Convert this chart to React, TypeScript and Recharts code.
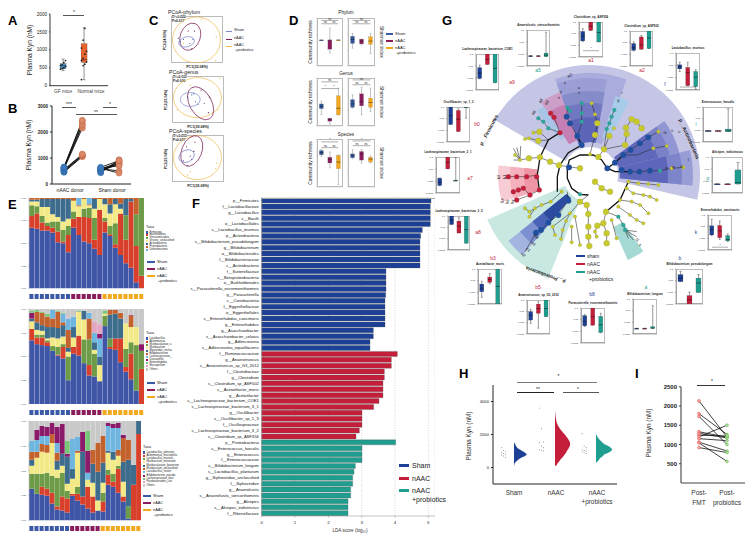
import React from 'react';
import {
  Bar, BarChart, CartesianGrid, Cell, ComposedChart, Area, Line, LineChart, Pie, PieChart,
  ReferenceLine, Scatter, ScatterChart, XAxis, YAxis,
} from 'recharts';

const FONT = '"Liberation Sans", Arial, sans-serif';
const BLUE = '#1c4096';
const RED = '#c41e3a';
const TEAL = '#1f9e8f';
const groupColors = [BLUE, RED, TEAL];
const dColors = ['#2f5597', '#8a1c5b', '#f2a91e'];

// panel F
const lefNames = [
  'p__Firmicutes', 'f__Lactobacillaceae', 'g__Lactobacillus', 'c__Bacilli', 'o__Lactobacillales', 's__Lactobacillus_murinus',
  'p__Actinobacteria', 's__Bifidobacterium_pseudolongum', 'g__Bifidobacterium', 'o__Bifidobacteriales', 'f__Bifidobacteriaceae',
  'c__Actinobacteria', 'f__Sutterellaceae', 'c__Betaproteobacteria', 'o__Burkholderiales', 's__Parasutterella_excrementihominis',
  'g__Parasutterella', 'c__Coriobacteriia', 'f__Eggerthellaceae', 'o__Eggerthellales', 's__Enterorhabdus_caecimuris',
  'g__Enterorhabdus', 'g__Asaccharobacter', 's__Asaccharobacter_celatus', 'g__Adlercreutzia', 's__Adlercreutzia_equolifaciens',
  'f__Ruminococcaceae', 'g__Anaerotruncus', 's__Anaerotruncus_sp_G3_2012', 'f__Clostridiaceae', 'g__Clostridium',
  's__Clostridium_sp_ASF502', 's__Acetatifactor_muris', 'g__Acetatifactor', 's__Lachnospiraceae_bacterium_COE1',
  's__Lachnospiraceae_bacterium_3_1', 'g__Oscillibacter', 's__Oscillibacter_sp_1_3', 'f__Oscillospiraceae',
  's__Lachnospiraceae_bacterium_3_2', 's__Clostridium_sp_ASF356',
  'p__Proteobacteria', 's__Enterococcus_faecalis', 'g__Enterococcus', 'f__Enterococcaceae', 's__Bifidobacterium_longum',
  's__Lactobacillus_plantarum', 'g__Siphoviridae_unclassified', 'f__Siphoviridae', 'g__Anaerofustis',
  's__Anaerofustis_stercorihominis', 'g__Alistipes', 's__Alistipes_indistinctus', 'f__Rikenellaceae',
];
const lefScores = [
  5.08, 5.06, 5.06, 5.06, 5.06, 4.82, 4.77, 4.75, 4.75, 4.75, 4.75, 4.75, 3.73, 3.73, 3.73, 3.73, 3.72, 3.7, 3.7, 3.7, 3.7, 3.7,
  3.35, 3.35, 3.25, 3.25,
  4.07, 3.89, 3.89, 3.68, 3.68, 3.64, 3.64, 3.64, 3.52, 3.36, 3.01, 3.01, 3.01, 2.93, 2.83,
  4.02, 3.01, 3.01, 3.01, 2.81, 2.77, 2.73, 2.73, 2.67, 2.67, 2.59, 2.59, 2.59,
];
const lefGroup = (i: number) => (i < 26 ? 0 : i < 41 ? 1 : 2);

// panel E
const e1Taxa = ['Firmicutes', 'Bacteroidetes', 'Verrucomicrobia', 'Viruses_unclassified', 'Actinobacteria', 'Proteobacteria', 'Deferribacteres'];
const e2Taxa = ['Lactobacillus', 'Akkermansia', 'Muribaculaceae_u', 'Muribaculum', 'Myoviridae_unclas', 'Bifidobacterium', 'Lachnospiraceae_', 'Duncaniella', 'Enterorhabdus', 'Mucispirillum', 'Others'];
const e3Taxa = ['Lactobacillus_johnsonii', 'Akkermansia_muciniphila', 'Lactobacillus_murinus', 'Muribaculum_intestinale', 'Muribaculaceae_bacterium', 'Muribaculum_unclassified', 'Lactobacillus_reuteri', 'Bifidobacterium_pseudo', 'Lachnospiraceae_bact', 'Parabacteroides_cae', 'Others'];
const e1Bars = [
  [67, 13, 12, 4, 2, 2, 0], [66, 17, 8, 5, 2, 2, 0], [64, 9, 7, 10, 9, 1, 0], [64, 5, 4, 17, 9, 1, 0], [62, 5, 7, 8, 17, 1, 0],
  [51, 12, 11, 5, 20, 1, 0], [50, 2, 13, 9, 25, 1, 0], [40, 19, 10, 8, 22, 1, 0], [67, 10, 8, 12, 0, 3, 0], [59, 20, 0, 12, 0, 1, 8],
  [52, 27, 9, 11, 0, 1, 0], [50, 28, 11, 3, 0, 1, 7], [44, 10, 24, 10, 11, 1, 0], [37, 50, 0, 12, 0, 1, 0], [62, 12, 4, 15, 6, 1, 0],
  [58, 2, 9, 14, 10, 7, 0], [45, 4, 23, 21, 6, 1, 0], [37, 46, 0, 5, 6, 6, 0], [28, 26, 27, 0, 18, 1, 0], [23, 73, 0, 0, 3, 1, 0],
  [7, 40, 35, 0, 0, 18, 0], [0, 14, 86, 0, 0, 0, 0],
];
const e2Bars = [
  [67, 12, 0, 8, 3, 0, 0, 6, 2, 0], [63, 7, 3, 5, 8, 11, 0, 0, 2, 0], [62, 8, 3, 4, 6, 13, 0, 0, 1, 0], [61, 4, 2, 2, 12, 11, 0, 0, 3, 0],
  [56, 0, 5, 9, 11, 9, 9, 0, 0, 0], [51, 1, 8, 9, 11, 17, 0, 0, 1, 0], [48, 12, 3, 8, 12, 3, 9, 0, 1, 0], [25, 0, 25, 5, 4, 19, 12, 0, 0, 1],
  [53, 7, 0, 10, 11, 0, 11, 0, 0, 0], [51, 21, 0, 25, 0, 0, 0, 0, 1, 0], [43, 0, 25, 21, 9, 0, 0, 0, 0, 0], [30, 11, 27, 0, 0, 22, 6, 0, 0, 0],
  [29, 0, 24, 4, 8, 0, 10, 0, 0, 12], [24, 0, 0, 17, 9, 0, 19, 5, 0, 10], [82, 0, 11, 2, 0, 0, 0, 0, 3, 0], [58, 2, 9, 0, 25, 5, 0, 0, 0, 0],
  [57, 12, 0, 0, 26, 4, 0, 0, 0, 0], [44, 25, 0, 0, 21, 6, 0, 0, 0, 0], [34, 5, 19, 27, 0, 0, 0, 0, 0, 0], [26, 27, 12, 16, 0, 12, 0, 1, 0, 0],
  [14, 0, 48, 19, 0, 0, 0, 0, 0, 0], [0, 37, 19, 0, 0, 0, 0, 7, 0, 0],
];
const e3Bars = [
  [32, 0, 15, 8, 6, 8, 11, 0, 0], [27, 0, 20, 16, 0, 6, 12, 10, 0], [26, 8, 13, 22, 0, 8, 8, 10, 0], [25, 7, 16, 20, 0, 8, 9, 9, 0],
  [17, 11, 17, 33, 0, 9, 0, 11, 0], [11, 3, 29, 8, 9, 8, 10, 16, 0], [10, 14, 24, 7, 12, 0, 0, 30, 0], [8, 14, 8, 7, 27, 0, 0, 3, 13],
  [25, 2, 0, 15, 10, 0, 30, 0, 0], [20, 7, 7, 34, 0, 2, 14, 0, 0], [16, 8, 0, 0, 45, 0, 0, 20, 0], [12, 22, 0, 7, 0, 0, 7, 22, 20],
  [8, 16, 0, 14, 19, 14, 0, 0, 0], [10, 0, 0, 10, 29, 29, 0, 0, 0], [9, 10, 9, 10, 20, 27, 0, 0, 0], [36, 10, 5, 17, 2, 0, 25, 3, 0],
  [34, 5, 8, 14, 8, 0, 24, 4, 0], [28, 24, 3, 10, 0, 6, 22, 5, 0], [19, 5, 0, 15, 20, 24, 0, 3, 0], [2, 0, 12, 0, 47, 20, 0, 0, 0],
  [0, 36, 0, 0, 20, 0, 0, 0, 0], [0, 87, 0, 0, 13, 0, 0, 0, 0],
];
const taxaColors = ['#3f56a6', '#d9402b', '#6d9b47', '#f3e986', '#3d6c8d', '#c4622d', '#6eb6e0', '#8b1a6b', '#79c67a', '#e3a5c0'];
const e1Groups = [8, 6, 8];
const e3Groups = [8, 6, 8];

// panel A, D boxes: [lo, q1, median, q3, hi]
const aCategories = ['GF mice', 'Normal mice'];
const aStats = [[420, 474, 558, 614, 744], [167, 651, 725, 1172, 1618]];
const aPointsGF = [460, 480, 500, 540, 560, 590, 640, 700];
const aPointsNormal = [170, 560, 600, 660, 700, 760, 880, 960, 1050, 1270, 1600];
const dCategories = ['Sham', 'nAAC', 'nAAC+probiotics'];
const dTitles = ['Phylum', 'Genus', 'Species'];
const dStats = [
  [[54, 54, 54, 54, 54], [27, 35, 54, 54, 79], [54, 54, 54, 54, 54]],
  [[37, 47, 55, 62, 68], [44, 46, 52, 56, 56], [26, 45, 52, 61, 68]],
  [[24, 36, 41, 46, 52], [4, 10, 14, 16, 16], [23, 23, 37, 63, 79]],
  [[37, 39, 46, 55, 65], [23, 42, 51, 67, 81], [30, 39, 49, 58, 79]],
  [[64, 67, 72, 76, 78], [40, 50, 58, 62, 73], [5, 38, 52, 66, 67]],
  [[59, 61, 65, 69, 78], [50, 56, 69, 74, 78], [50, 52, 58, 62, 65]],
];

// panel B and I paired values
const bLeftA = [450, 480, 500, 530, 550, 580, 600, 620, 640, 650];
const bRightA = [1050, 1080, 1100, 1120, 1150, 2150, 2250, 2300, 2400, 2450];
const bLeftB = [430, 470, 500, 520, 540, 560, 590, 600, 620, 640];
const bRightB = [930, 880, 800, 750, 800, 850, 500, 420, 700, 900];
const iCategories = ['Post-FMT', 'Post-probiotics'];
const iBefore = [2130, 1800, 1730, 1330, 1290, 1240, 1200, 1150, 1060, 1040, 920];
const iAfter = [1190, 1260, 1000, 1190, 1170, 1220, 1500, 1100, 830, 560, 790];

// panel C, scores in a 0-100 plot range
const cPoints = [
  { sham: [[18, 45], [24, 50], [36, 42], [14, 53], [42, 50]], naac: [[33, 68], [40, 30], [45, 68]], prob: [[59, 93], [87, 55], [86, 5], [24, 42]] },
  { sham: [[30, 55], [38, 60], [45, 45], [50, 40], [42, 62]], naac: [[62, 42], [70, 22], [72, 55], [56, 70]], prob: [[92, 95], [35, 80], [10, 28], [88, 28]] },
  { sham: [[22, 45], [35, 55], [30, 35], [38, 48]], naac: [[28, 75], [44, 85], [42, 65]], prob: [[86, 40], [84, 28], [30, 15], [35, 22]] },
];
const cEllipses = [
  [[49, 49, 24, 23, 0], [37, 56, 10, 14, 20], [30, 45, 8, 5, -15]],
  [[49, 54, 24, 20, 0], [55, 42, 11, 18, -30], [35, 50, 10, 7, 0]],
  [[49, 52, 24, 22, 0], [38, 66, 10, 16, 22], [28, 55, 8, 6, -25]],
];
const cTitles = ['PCoA-phylum', 'PCoA-genus', 'PCoA-species'];
const cStats = [['R²=0.224', 'P=0.017'], ['R²=0.130', 'P=0.030'], ['R²=0.218', 'P=0.027']];
const cXLabels = ['PC1(32.08%)', 'PC1(39.08%)', 'PC1(35.08%)'];
const cYLabels = ['PC2(24.95%)', 'PC2(23.04%)', 'PC2(23.04%)'];

// panel G small boxes
const gTitles = [
  'Lachnospiraceae_bacterium_COE1', 'Anaerofustis_stercorihominis', 'Clostridium_sp_ASF356', 'Clostridium_sp_ASF502', 'Lactobacillus_murinus',
  'Enterococcus_faecalis', 'Alistipes_indistinctus', 'Enterorhabdus_caecimuris', 'Bifidobacterium_pseudolongum', 'Bifidobacterium_longum',
  'Parasutterella_excrementihominis', 'Anaerotruncus_sp_G3_2012', 'Acetatifactor_muris', 'Lachnospiraceae_bacterium_3_2',
  'Lachnospiraceae_bacterium_3_1', 'Oscillibacter_sp_1_3',
];
const gStats = [
  [[31, 32, 47, 62, 69], [71, 71, 85, 100, 100], [20, 20, 60, 100, 100]],
  [[28, 28, 28, 28, 28], [28, 28, 28, 28, 28], [26, 26, 30, 36, 94]],
  [[44, 46, 60, 73, 81], [76, 76, 88, 100, 100], [43, 43, 70, 100, 100]],
  [[43, 45, 52, 64, 69], [48, 48, 60, 83, 87], [50, 50, 80, 100, 100]],
  [[50, 57, 63, 68, 75], [11, 12, 47, 61, 75], [2, 9, 35, 50, 55]],
  [[32, 32, 32, 32, 32], [32, 32, 32, 32, 32], [30, 30, 32, 37, 95]],
  [[25, 25, 25, 25, 25], [25, 25, 25, 25, 25], [25, 25, 29, 64, 85]],
  [[41, 43, 58, 69, 88], [30, 35, 55, 70, 83], [24, 26, 30, 41, 46]],
  [[64, 64, 74, 84, 93], [0, 0, 12, 24, 34], [33, 33, 60, 74, 84]],
  [[16, 16, 16, 16, 16], [16, 16, 16, 16, 16], [16, 16, 17, 21, 81]],
  [[47, 49, 62, 78, 81], [51, 51, 75, 100, 100], [29, 30, 52, 76, 85]],
  [[31, 41, 55, 66, 73], [17, 61, 75, 88, 95], [51, 51, 75, 100, 100]],
  [[19, 35, 45, 57, 65], [58, 62, 70, 77, 87], [0, 0, 50, 100, 100]],
  [[75, 75, 88, 100, 100], [50, 50, 70, 85, 95], [20, 20, 60, 100, 100]],
  [[20, 21, 30, 41, 42], [67, 67, 85, 100, 100], [35, 35, 35, 35, 100]],
  [[50, 50, 75, 100, 100], [30, 30, 65, 90, 95], [68, 100, 100, 100, 100]],
];
const gTickLabels = ['0.0001', '0.001', '0.01', '0.1'];
const gBoxFrames = [
  [476, 54, 23, 36], [527, 30, 23, 36], [579, 22, 24, 35], [630, 31, 23, 35], [676, 53, 24, 37], [703, 107, 30, 35], [712, 157, 31, 36], [708, 215, 24, 35],
  [676, 269, 27, 35], [633, 299, 24, 35], [581, 308, 24, 35], [527, 300, 23, 34], [478, 269, 24, 35], [448, 216, 22, 34], [436, 157, 24, 36], [447, 107, 23, 35],
];
const gBoxTags: [string, string, number, number][] = [
  ['a9', RED, 512, 82], ['a5', TEAL, 538, 70], ['a1', RED, 591, 60], ['a2', RED, 642, 70], ['f', BLUE, 665, 84], ['i', TEAL, 696, 124],
  ['p', TEAL, 708, 178], ['k', BLUE, 696, 232], ['b', BLUE, 680, 258], ['a', TEAL, 646, 287], ['b8', BLUE, 592, 294], ['b5', RED, 538, 287],
  ['b3', RED, 493, 258], ['a8', RED, 478, 232], ['a7', RED, 470, 178], ['b0', RED, 477, 124],
];

// cladogram wedges in degrees counterclockwise from east
const wedgeStarts = [-13, 203.5, 174, 174, 174, 294, 69, 80, 80, 80, 80, 62, 110, 110, 124, 14, 14, 14, -6, -6, -6, 219, 219, 219, 219];
const wedgeSpans = [163, 44.5, 23, 23, 23, 11, 41, 30, 30, 30, 30, 10, 14, 14, 6, 22, 22, 22, 20, 20, 20, 11, 11, 11, 11];
const wedgeInner = [28, 27, 53, 53, 53, 57, 33, 33, 33, 33, 33, 40, 37, 37, 45, 30, 30, 30, 30, 30, 30, 30, 30, 30, 30];
const wedgeOuter = [110, 112, 92, 80, 66, 93, 102, 97, 84, 72, 58, 83, 88, 75, 83, 92, 82, 70, 103, 92, 78, 105, 90, 74, 60];
const wedgeFills = ['#c5c6e6', '#c9e8e2', '#f8ccd4', '#f4b1bd', '#ee95a6', '#a5d9d3', '#a9acdc', '#9a9ed5', '#868cca', '#7177c1', '#5d65b9', '#a8cbea', '#cd9fc8', '#c47fb5', '#a8c4e6', '#9297d3', '#7a81c8', '#5f68bb', '#999dd6', '#7d84ca', '#5d66ba', '#a4b4e0', '#7c8fd0', '#4a63b6', '#2c4a9e'];

// cladogram tree, read in a 0-675 layout range
const thickChains = [
  [[232, 395], [232, 350], [240, 315], [265, 278], [305, 255]],
  [[262, 322], [268, 300], [300, 285], [340, 285], [365, 300], [382, 325]],
  [[262, 322], [262, 355], [275, 385], [300, 403], [325, 405]],
  [[180, 292], [172, 345], [178, 390]],
  [[180, 292], [205, 240], [240, 218]],
  [[378, 455], [420, 420], [445, 365]],
  [[382, 325], [405, 308], [430, 285]],
  [[382, 325], [405, 335], [450, 335]],
  [[305, 255], [292, 228]],
];
const thinChains = [
  [[180, 292], [147, 295], [120, 300], [105, 285]],
  [[120, 300], [100, 265]], [[120, 300], [110, 262]], [[120, 300], [122, 258]], [[120, 300], [100, 300]],
  [[240, 218], [205, 205], [190, 185], [175, 175]],
  [[240, 218], [222, 172], [212, 160]],
  [[205, 240], [178, 215], [160, 218]],
  [[205, 240], [175, 242], [147, 235], [135, 237]],
  [[292, 228], [270, 190], [260, 170], [262, 143]],
  [[292, 228], [305, 190], [305, 130]],
  [[330, 283], [345, 225], [352, 190], [345, 163], [335, 130]],
  [[355, 291], [372, 268], [388, 228]],
  [[372, 268], [380, 207], [388, 190], [395, 170], [403, 150]],
  [[372, 268], [435, 255], [440, 222], [438, 203], [455, 178], [470, 185], [485, 205]],
  [[430, 285], [452, 270], [480, 250], [505, 232], [535, 215]],
  [[450, 335], [478, 335], [510, 332], [540, 332], [575, 325], [610, 322]],
  [[430, 285], [470, 285], [520, 265], [560, 258]],
  [[445, 365], [475, 370], [505, 372], [535, 375]],
  [[440, 385], [460, 400], [490, 405], [510, 410], [530, 420]],
  [[420, 420], [455, 425], [480, 435], [505, 460]],
  [[415, 440], [450, 465], [470, 480], [490, 490]],
  [[378, 455], [415, 470], [430, 495], [435, 510]],
  [[435, 510], [470, 530]], [[435, 510], [460, 540]], [[435, 510], [445, 535]], [[435, 510], [470, 515]],
  [[378, 455], [370, 490], [352, 497], [345, 515], [350, 530]],
  [[370, 490], [380, 520], [380, 550]],
  [[395, 480], [410, 535]],
  [[325, 405], [300, 425], [320, 435], [325, 462], [325, 500], [325, 530], [328, 558]],
  [[300, 425], [270, 460], [258, 483], [248, 510], [243, 537]],
  [[285, 470], [300, 555]],
  [[275, 500], [275, 547]],
  [[270, 460], [218, 500], [225, 525]],
  [[262, 395], [265, 422], [235, 465], [205, 488], [183, 510], [168, 518], [135, 575]],
  [[245, 395], [212, 425], [185, 435], [165, 445], [148, 455], [135, 445]],
  [[165, 445], [148, 470]],
  [[172, 345], [140, 350], [110, 350], [85, 350]],
  [[178, 390], [150, 405], [130, 385], [100, 395]],
  [[150, 405], [110, 420]],
  [[345, 365], [365, 385], [390, 395]],
  [[237, 316], [210, 305], [180, 292]],
  [[237, 316], [300, 325]],
];
const yellowBig = [
  [345, 365], [365, 385], [390, 395], [378, 455], [300, 325], [237, 316], [210, 305], [180, 292], [355, 291], [345, 225], [388, 228], [372, 268],
  [435, 255], [440, 222], [455, 178], [470, 185], [485, 205], [438, 203], [352, 190], [178, 215], [175, 242], [147, 295],
  [325, 462], [325, 500], [325, 530], [328, 558], [300, 425], [320, 435], [370, 490], [352, 497], [380, 520], [380, 550],
];
const yellowSmall = [
  [330, 283], [345, 163], [335, 130], [402, 205], [160, 218], [147, 235], [135, 237], [120, 300], [105, 285],
  [270, 460], [258, 483], [248, 510], [243, 537], [218, 500], [225, 525], [185, 435], [165, 445], [148, 455], [135, 445], [148, 470], [212, 425], [245, 395],
  [345, 515], [350, 530], [410, 535], [395, 480], [300, 555], [275, 547], [285, 470], [275, 500],
  [445, 365], [440, 385], [475, 370], [505, 372], [535, 375], [460, 400], [490, 405], [510, 410], [530, 420], [455, 425], [480, 435], [505, 460], [450, 465], [470, 480], [490, 490], [420, 420], [415, 440],
  [575, 325], [610, 322], [535, 215], [520, 265], [560, 258],
];
const blueNodes = [
  [267, 322], [305, 255], [292, 228], [270, 190], [260, 170], [382, 325], [405, 308], [425, 330], [450, 335], [478, 335], [510, 332], [430, 285], [452, 270], [480, 250], [505, 232],
  [265, 422], [235, 465], [205, 488], [183, 510], [168, 518],
];
const redNodes = [
  [240, 218], [222, 172], [212, 160], [170, 350], [140, 350], [110, 350], [85, 350], [178, 390], [150, 405], [130, 385], [115, 390], [100, 395], [110, 420],
];
const tealNodes = [
  [300, 403], [305, 160], [305, 130], [305, 185], [262, 143], [270, 152], [395, 170], [403, 150], [388, 190], [380, 207], [205, 205], [190, 185], [175, 175], [415, 470], [430, 495], [435, 510], [540, 332],
];
const cladeLetters: [string, number, number, number][] = [
  ['a0', 270, 47, -20], ['z', 255, 70, -15], ['y', 243, 95, -20], ['x', 238, 115, -20], ['u', 297, 85, 0], ['t', 297, 100, 0], ['r', 425, 100, 15], ['q', 415, 122, 15],
  ['a4', 183, 123, -55], ['a3', 200, 130, -50], ['a6', 162, 160, -50], ['b2', 57, 350, -90], ['b1', 75, 350, -90], ['b7', 70, 422, -70], ['b6', 85, 425, -70], ['b4', 100, 425, -70],
  ['c2', 130, 585, 45], ['c1', 145, 570, 45], ['c0', 158, 552, 45], ['b9', 168, 530, 45], ['t1', 470, 540, 45], ['s', 480, 555, 45],
  ['o', 597, 215, 30], ['n', 575, 212, 30], ['m', 555, 220, 30], ['l', 625, 300, 0], ['h', 605, 320, 0], ['g', 580, 322, 0], ['e', 560, 325, 0],
];

// panel H density outlines, read per kyn level
const hLevels = [100, 200, 300, 400, 500, 600, 700, 800, 900, 1000, 1100, 1200, 1300, 1400, 1500, 1600, 1800, 2000, 2200, 2400, 2600, 2800, 3000, 3200, 3500];
const hSham = [0.005, 0.01, 0.03, 0.07, 0.12, 0.19, 0.27, 0.31, 0.27, 0.2, 0.13, 0.08, 0.05, 0.03, 0.01, null, null, null, null, null, null, null, null, null, null];
const hNaac = [0.03, 0.05, 0.08, 0.11, 0.14, 0.18, 0.21, 0.24, 0.27, 0.29, 0.32, 0.34, 0.36, 0.37, 0.365, 0.35, 0.3, 0.24, 0.17, 0.11, 0.06, 0.035, 0.02, 0.01, 0.0];
const hProb = [null, null, 0.01, 0.05, 0.08, 0.12, 0.17, 0.21, 0.3, 0.37, 0.39, 0.36, 0.3, 0.22, 0.16, 0.12, 0.05, 0.01, null, null, null, null, null, null, null];
const hDotsSham = [620, 700, 760, 800, 850, 900, 950, 1050, 1200];
const hDotsNaac = [1000, 1050, 1100, 1200, 1300, 1500, 1550, 2350, 3600];
const hDotsProb = [850, 900, 950, 1000, 1050, 1100, 1200, 1300, 2050];

const T = ({ x, y, s = 5, c = '#222', b = false, rot = 0, a = 'left', children }: any) => (
  <div
    style={{
      position: 'absolute', left: x, top: y, fontSize: s, color: c, fontWeight: b ? 700 : 400, fontFamily: FONT, lineHeight: 1, whiteSpace: 'pre',
      transform: `translate(${a === 'center' ? '-50%' : '0'}, -50%) rotate(${rot}deg)`,
    }}
  >
    {children}
  </div>
);

const Rule = ({ x, y, w, c = '#222', h = 1 }: any) => (
  <div style={{ position: 'absolute', left: x, top: y, width: w, height: h, background: c }} />
);

const At = ({ x, y, children }: any) => <div style={{ position: 'absolute', left: x, top: y }}>{children}</div>;

const statsToRows = (stats: number[][], names: string[]) =>
  stats.map((s, i) => ({ name: names[i], lo: s[0], q1: s[1], med: s[2], q3: s[3], hi: s[4], idx: i }));

function BoxShape(p: any) {
  const { x, y, width, height, payload, colors, line } = p;
  const span = payload.hi - payload.lo;
  const ppu = span > 0 ? Math.abs(height) / span : 0;
  const at = (v: number) => y + (payload.hi - v) * ppu;
  const mid = x + width / 2;
  const fill = colors[payload.idx];
  return (
    <g>
      <line x1={mid} x2={mid} y1={at(payload.hi)} y2={at(payload.lo)} stroke={line} strokeWidth={0.5} />
      <line x1={mid - width / 4} x2={mid + width / 4} y1={at(payload.hi)} y2={at(payload.hi)} stroke={line} strokeWidth={0.4} />
      <line x1={mid - width / 4} x2={mid + width / 4} y1={at(payload.lo)} y2={at(payload.lo)} stroke={line} strokeWidth={0.4} />
      <rect x={x} y={at(payload.q3)} width={width} height={Math.max(at(payload.q1) - at(payload.q3), 0.8)} fill={fill} stroke={line} strokeWidth={0.2} />
      <line x1={x} x2={x + width} y1={at(payload.med)} y2={at(payload.med)} stroke={p.medColor} strokeWidth={0.5} />
    </g>
  );
}

function BoxChart({ x, y, w, h, rows, colors, domain = [0, 100], ticks, labels, padL = 8, padB = 3, padT = 3, xPad, tickSize = 2.6, line = '#555', medColor = '#1a1a1a', axis = '#777', axisW = 0.5, frame = true, gap = '25%', sig = [] }: any) {
  return (
    <At x={x - padL} y={y - padT}>
      {frame && <div style={{ position: 'absolute', left: padL, top: padT, width: w, height: h, boxSizing: 'border-box', border: '0.6px solid #bbb' }} />}
      <ComposedChart width={w + padL} height={h + padB + padT} data={rows} margin={{ top: padT, right: 0, bottom: 0, left: 0 }} barCategoryGap={gap}>
        <XAxis dataKey="name" height={padB} tick={false} tickSize={1} stroke={axis} strokeWidth={axisW} padding={xPad} />
        <YAxis
          type="number" width={padL} domain={domain} allowDataOverflow ticks={ticks} tickSize={1} interval={0} stroke={axis} strokeWidth={axisW}
          tick={{ fontSize: tickSize, fill: '#222', fontFamily: FONT }}
          tickFormatter={(v: number) => (labels ? labels[ticks.indexOf(v)] : String(v))}
        />
        <Bar dataKey={(d: any) => [d.lo, d.hi]} isAnimationActive={false} shape={(p: any) => <BoxShape {...p} colors={colors} line={line} medColor={medColor} />} />
        {sig.map((s: any, i: number) => (
          <ReferenceLine
            key={i} stroke="#333" strokeWidth={0.4}
            segment={[{ x: rows[s[0]].name, y: s[2] }, { x: rows[s[1]].name, y: s[2] }]}
            label={{ value: s[3], position: 'top', offset: 0.4, fontSize: 3, fill: '#222', fontFamily: FONT }}
          />
        ))}
      </ComposedChart>
    </At>
  );
}

function StackChart({ x, y, w, h, bars, colors, others, tail, stripY, groups }: any) {
  const keys = colors.map((_: any, i: number) => `t${i}`);
  const rows = bars.map((b: number[], i: number) => {
    const row: any = { bar: i };
    keys.forEach((k: string, j: number) => { row[k] = b[j] || 0; });
    row.rest = others ? 100 - b.reduce((a, c) => a + c, 0) : 0;
    return row;
  });
  const strip = bars.map((_: any, i: number) => ({ bar: i, on: 1 }));
  const stripColor = (i: number) => (i < groups[0] ? '#3a5aa8' : i < groups[0] + groups[1] ? '#8a1c5b' : '#f2a91e');
  return (
    <>
      <At x={x - 8} y={y - 2}>
        <BarChart width={w + 8} height={h + 4} data={rows} margin={{ top: 2, right: 0, bottom: 2, left: 0 }} barCategoryGap="4%" stackOffset="none">
          <XAxis dataKey="bar" hide />
          <YAxis type="number" width={8} domain={[0, 100]} allowDataOverflow ticks={[0, 25, 50, 75, 100]} tickSize={1} stroke="#999" strokeWidth={0.4}
            tick={{ fontSize: 2.4, fill: '#333', fontFamily: FONT }} tickFormatter={(v: number) => (v / 100).toFixed(2)} />
          {keys.map((k: string, i: number) => (
            <Bar key={k} dataKey={k} stackId="s" fill={colors[i]} isAnimationActive={false} />
          ))}
          {others && <Bar dataKey="rest" stackId="s" fill="#c9c9c9" isAnimationActive={false} />}
        </BarChart>
      </At>
      <At x={x} y={stripY}>
        <BarChart width={w} height={5} data={strip} margin={{ top: 0, right: 0, bottom: 0, left: 0 }} barCategoryGap={0.4}>
          <XAxis dataKey="bar" hide />
          <YAxis hide domain={[0, 1]} />
          <Bar dataKey="on" isAnimationActive={false}>
            {strip.map((_: any, i: number) => <Cell key={i} fill={stripColor(i)} />)}
          </Bar>
        </BarChart>
      </At>
      {tail}
    </>
  );
}

const TaxaLegend = ({ x, y, names, colors, step }: any) => (
  <>
    <T x={x} y={y} s={3.8}>Taxa</T>
    {names.map((n: string, i: number) => (
      <React.Fragment key={n}>
        <div style={{ position: 'absolute', left: x, top: y + 3.4 + i * step, width: 2.4, height: 2.2, background: colors[i] || '#c9c9c9' }} />
        <T x={x + 3.5} y={y + 4.5 + i * step} s={2.7}>{n}</T>
      </React.Fragment>
    ))}
  </>
);

const GroupLegend = ({ x, y, s = 4.2, swatchW = 8, gap = 7 }: any) => (
  <>
    {['Sham', 'nAAC', 'nAAC'].map((n, i) => (
      <React.Fragment key={i}>
        <Rule x={x} y={y + i * gap - 1.2} w={swatchW} h={2.4} c={['#3a5aa8', '#8a1c5b', '#f2a91e'][i]} />
        <T x={x + swatchW + 2} y={y + i * gap} s={s}>{n}</T>
      </React.Fragment>
    ))}
    <T x={x + swatchW + 3} y={y + 2 * gap + 5} s={s}>+probiotics</T>
  </>
);

function PanelC({ i, x, y }: any) {
  const w = 52;
  const h = 47;
  const colors = ['#7f87c9', '#7e2457', '#eebc4d'];
  const groups = [cPoints[i].sham, cPoints[i].naac, cPoints[i].prob];
  const dots = ['#3a4aa0', '#6a1d4c', '#e2b33f'];
  return (
    <>
      <T x={x - 3} y={y - 3} s={5.2}>{cTitles[i]}</T>
      <T x={x + 1} y={y + 2} s={3.3} b>{cStats[i][0]}</T>
      <T x={x + 1} y={y + 5.5} s={3.3} b>{cStats[i][1]}</T>
      <T x={x + w / 2} y={y + h + 5} s={3.6} b a="center">{cXLabels[i]}</T>
      <T x={x - 5.5} y={y + h / 2} s={3.4} b a="center" rot={-90}>{cYLabels[i]}</T>
      <At x={x} y={y}>
        <div style={{ position: 'absolute', left: 0, top: 0, width: w, height: h, boxSizing: 'border-box', border: '0.7px solid #bbb' }} />
        <ScatterChart width={w} height={h} margin={{ top: 0, right: 0, bottom: 0, left: 0 }}>
          <XAxis type="number" dataKey="x" hide domain={[0, 100]} />
          <YAxis type="number" dataKey="y" hide domain={[0, 100]} />
          {cEllipses[i].map((e, k) => (
            <Scatter
              key={k} data={[{ x: e[0], y: e[1] }]} isAnimationActive={false}
              shape={(p: any) => (
                <ellipse cx={p.cx} cy={p.cy} rx={e[2]} ry={e[3]} fill="none" stroke={colors[2 - k]} strokeWidth={0.7} transform={`rotate(${e[4]} ${p.cx} ${p.cy})`} />
              )}
            />
          ))}
          {groups.map((g, k) => (
            <Scatter key={`d${k}`} data={g.map((d) => ({ x: d[0], y: d[1] }))} isAnimationActive={false}
              shape={(p: any) => <circle cx={p.cx} cy={p.cy} r={0.6} fill={dots[k]} />} />
          ))}
        </ScatterChart>
      </At>
    </>
  );
}

function Cladogram() {
  const toPts = (c: number[][]) => c.map((d) => ({ x: d[0], y: d[1] }));
  const nodeLayer = (pts: number[][], fill: string, r: number) => (
    <Scatter data={toPts(pts)} isAnimationActive={false} shape={(p: any) => <circle cx={p.cx} cy={p.cy} r={r} fill={fill} stroke="#777" strokeWidth={0.15} />} />
  );
  return (
    <>
      <At x={450} y={30}>
        <PieChart width={290} height={290} margin={{ top: 0, right: 0, bottom: 0, left: 0 }}>
          {wedgeStarts.map((st, i) => (
            <Pie
              key={i} data={[{ v: wedgeSpans[i] }, { v: 360 - wedgeSpans[i] }]} dataKey="v" cx={140} cy={145}
              startAngle={st} endAngle={st + 360} innerRadius={wedgeInner[i]} outerRadius={wedgeOuter[i]} stroke="none" isAnimationActive={false}
            >
              <Cell fill={wedgeFills[i]} />
              <Cell fill="none" />
            </Pie>
          ))}
        </PieChart>
      </At>
      <At x={480} y={60}>
        <ScatterChart width={225} height={225} margin={{ top: 0, right: 0, bottom: 0, left: 0 }}>
          <XAxis type="number" dataKey="x" hide domain={[0, 675]} />
          <YAxis type="number" dataKey="y" hide domain={[0, 675]} reversed />
          {thinChains.map((c, i) => (
            <Scatter key={`t${i}`} data={toPts(c)} isAnimationActive={false} line={{ stroke: '#222', strokeWidth: 0.55 }} shape={() => <g />} />
          ))}
          {thickChains.map((c, i) => (
            <Scatter key={`k${i}`} data={toPts(c)} isAnimationActive={false} line={{ stroke: '#111', strokeWidth: 1.3 }} lineType="joint" shape={() => <g />} />
          ))}
          {nodeLayer(yellowSmall, '#c8c92c', 1.8)}
          {nodeLayer(yellowBig, '#c8c92c', 3)}
          {nodeLayer(blueNodes, '#1f4fa0', 2.9)}
          {nodeLayer(redNodes, RED, 2.5)}
          {nodeLayer(tealNodes, '#2aa79b', 2)}
        </ScatterChart>
      </At>
      {cladeLetters.map((l, i) => (
        <T key={i} x={480 + l[1] / 3} y={60 + l[2] / 3} s={4.2} a="center" rot={l[3]} c="#111">{l[0]}</T>
      ))}
      <T x={489} y={130} s={5} a="center" rot={-62} b>p__Firmicutes</T>
      <T x={689} y={139} s={5} a="center" rot={66} b>p__Actinobacteria</T>
      <T x={546} y={274} s={4.8} a="center" rot={200} b>p__Proteobacteria</T>
      <Rule x={576} y={255} w={9} h={2.4} c={BLUE} />
      <Rule x={576} y={263} w={9} h={2.4} c={RED} />
      <Rule x={576} y={271} w={9} h={2.4} c={TEAL} />
      <T x={587} y={256} s={5}>sham</T>
      <T x={587} y={264} s={5}>nAAC</T>
      <T x={587} y={272} s={5}>nAAC</T>
      <T x={589} y={279} s={5}>+probiotics</T>
    </>
  );
}

function PanelH() {
  const rows = hLevels.map((k, i) => ({
    kyn: k,
    sham: hSham[i] === null ? null : [0, hSham[i]],
    naac: hNaac[i] === null ? null : [1, 1 + (hNaac[i] as number)],
    prob: hProb[i] === null ? null : [2, 2 + (hProb[i] as number)],
  }));
  const dots = [
    ...hDotsSham.map((v, i) => ({ x: -0.2 - (i % 3) * 0.05, y: v })),
    ...hDotsNaac.map((v, i) => ({ x: 0.72 - (i % 3) * 0.05, y: v })),
    ...hDotsProb.map((v, i) => ({ x: 1.76 - (i % 3) * 0.05, y: v })),
  ];
  const tick = { fontSize: 6.4, fill: '#333', fontFamily: FONT };
  const xDomain = [-0.512, 2.512];
  const yDomain = [-1000, 5000];
  return (
    <>
      <At x={463} y={380}>
        <ComposedChart layout="vertical" width={154} height={122} data={rows} margin={{ top: 5, right: 0, bottom: 0, left: 0 }}>
          <XAxis type="number" domain={xDomain} ticks={[0, 1, 2]} height={18} tick={false} tickSize={2} stroke="#222" />
          <YAxis type="number" dataKey="kyn" width={30} domain={yDomain} ticks={[0, 2000, 4000]} tickSize={2} stroke="#222" reversed
            tick={{ fontSize: 4.2, fill: '#222', fontFamily: FONT }} />
          <Area dataKey="sham" stroke="none" fill={BLUE} fillOpacity={1} type="monotone" isAnimationActive={false} />
          <Area dataKey="naac" stroke="none" fill={RED} fillOpacity={1} type="monotone" isAnimationActive={false} />
          <Area dataKey="prob" stroke="none" fill={TEAL} fillOpacity={1} type="monotone" isAnimationActive={false} />
        </ComposedChart>
      </At>
      <At x={493} y={385}>
        <ScatterChart width={124} height={99} margin={{ top: 0, right: 0, bottom: 0, left: 0 }}>
          <XAxis type="number" dataKey="x" hide domain={xDomain} />
          <YAxis type="number" dataKey="y" hide domain={yDomain} />
          <Scatter data={dots} isAnimationActive={false} shape={(p: any) => <circle cx={p.cx} cy={p.cy} r={0.45} fill="#333" />} />
        </ScatterChart>
      </At>
      <T x={514} y={493} s={tick.fontSize} a="center" c="#333">Sham</T>
      <T x={556} y={493} s={tick.fontSize} a="center" c="#333">nAAC</T>
      <T x={597} y={493} s={tick.fontSize} a="center" c="#333">nAAC</T>
      <T x={597} y={502} s={tick.fontSize} a="center" c="#333">+probiotics</T>
      <T x={469} y={436} s={6.4} a="center" rot={-90} c="#333">Plasma Kyn (nM)</T>
      <Rule x={517} y={381.5} w={80} c="#777" h={0.8} />
      <Rule x={517} y={392} w={37} c="#222" h={0.8} />
      <Rule x={563} y={392} w={36} c="#555" h={0.8} />
      <T x={558.5} y={376} s={5} a="center">*</T>
      <T x={538} y={389} s={5} a="center">**</T>
      <T x={578} y={389} s={5} a="center">*</T>
    </>
  );
}

function PairDot(p: any) {
  const { cx, cy, index, palette, r = 1.3 } = p;
  if (cx == null || cy == null) return <g key={index} />;
  return <circle key={index} cx={cx} cy={cy} r={r} fill={palette[index].fill} stroke={palette[index].stroke} strokeWidth={0.5} />;
}

function PanelA() {
  const pts = [
    ...aPointsGF.map((v, i) => ({ x: -0.12 + (i % 4) * 0.08, y: v })),
    ...aPointsNormal.map((v, i) => ({ x: 0.88 + (i % 4) * 0.08, y: v })),
  ];
  return (
    <>
      <BoxChart x={50} y={14.3} w={58} h={71.7} rows={statsToRows(aStats, aCategories)} colors={['#4a9bd4', '#e8632c']} domain={[0, 2000]} ticks={[0, 500, 1000, 1500, 2000]}
        padL={22} padB={3} tickSize={4.6} line="#222" axis="#222" axisW={0.9} frame={false} gap="36%" xPad={{ left: 2.5, right: 13.5 }} />
      <At x={50} y={14.3}>
        <ScatterChart width={58} height={71.7} margin={{ top: 0, right: 0, bottom: 0, left: 0 }}>
          <XAxis type="number" dataKey="x" hide domain={[-0.619, 2.143]} />
          <YAxis type="number" dataKey="y" hide domain={[0, 2000]} />
          <Scatter data={pts} isAnimationActive={false} shape={(p: any) => <circle cx={p.cx} cy={p.cy} r={0.9} fill="#222" />} />
        </ScatterChart>
      </At>
    </>
  );
}

function PanelB() {
  const rows = [0, 1, 2, 3].map((pos) => {
    const row: any = { pos };
    bLeftA.forEach((_, i) => {
      row[`a${i}`] = pos === 0 ? bLeftA[i] : pos === 1 ? bRightA[i] : null;
      row[`b${i}`] = pos === 2 ? bLeftB[i] : pos === 3 ? bRightB[i] : null;
    });
    return row;
  });
  const palette = [0, 1, 2, 3].map((p) => (p % 2 === 0 ? { fill: '#3f78b8', stroke: '#2f6aa8' } : { fill: '#d98a6a', stroke: '#c4623d' }));
  const keys = [...bLeftA.map((_, i) => `a${i}`), ...bLeftB.map((_, i) => `b${i}`)];
  return (
    <At x={27} y={101}>
      <LineChart width={104} height={92} data={rows} margin={{ top: 5, right: 0, bottom: 0, left: 0 }}>
        <XAxis type="number" dataKey="pos" domain={[-0.65, 3.65]} ticks={[0.5, 2.5]} height={9} tick={false} tickSize={2} stroke="#222" />
        <YAxis type="number" width={25} domain={[0, 3000]} ticks={[0, 1000, 2000, 3000]} tickSize={2} stroke="#222"
          tick={{ fontSize: 4.6, fill: '#222', fontFamily: FONT, fontWeight: 700 }} />
        {keys.map((k) => (
          <Line key={k} dataKey={k} stroke="#111" strokeWidth={0.9} isAnimationActive={false} dot={(p: any) => <PairDot {...p} palette={palette} />} />
        ))}
      </LineChart>
    </At>
  );
}

function PanelI() {
  const rows = iCategories.map((name, pos) => {
    const row: any = { name };
    iBefore.forEach((_, i) => { row[`p${i}`] = pos === 0 ? iBefore[i] : iAfter[i]; });
    return row;
  });
  const palette = [{ fill: '#f3b3ae', stroke: '#d83a32' }, { fill: '#b9e0a6', stroke: '#52ad3c' }];
  return (
    <At x={653} y={382}>
      <LineChart width={92} height={103} data={rows} margin={{ top: 4.7, right: 0, bottom: 0, left: 0 }}>
        <XAxis dataKey="name" padding={{ left: 18, right: 18 }} height={2} tick={false} tickSize={2} stroke="#444" strokeWidth={1.1} scale="point" />
        <YAxis type="number" width={28} domain={[0, 2500]} ticks={[0, 500, 1000, 1500, 2000, 2500]} tickSize={2} stroke="#444" strokeWidth={1.1}
          tick={{ fontSize: 6, fill: '#222', fontFamily: FONT, fontWeight: 700 }} />
        {iBefore.map((_, i) => (
          <Line key={i} dataKey={`p${i}`} stroke="#111" strokeWidth={0.8} isAnimationActive={false} dot={(p: any) => <PairDot {...p} palette={palette} r={1.4} />} />
        ))}
      </LineChart>
    </At>
  );
}

export default function App() {
  const lefData = lefNames.map((name, i) => ({ name, score: lefScores[i] }));
  const dRow = (i: number) => statsToRows(dStats[i], dCategories);
  const dFrames = [[317, 18], [348, 18], [317, 78], [348, 78], [317, 139], [348, 139]];
  return (
    <div style={{ position: 'absolute', left: 0, top: 0, width: 756, height: 542, background: '#fff', overflow: 'hidden', fontFamily: FONT }}>
      {[['A', 8, 20], ['B', 8, 108], ['C', 149, 20], ['D', 289, 20], ['E', 8, 204], ['F', 192, 203], ['G', 442, 20], ['H', 459, 373], ['I', 635, 373]].map((l: any) => (
        <T key={l[0]} x={l[1]} y={l[2]} s={13} b c="#000">{l[0]}</T>
      ))}

      {/* A */}
      <PanelA />
      <T x={30} y={50} s={6.6} a="center" rot={-90}>Plasma Kyn (nM)</T>
      <T x={63} y={92} s={4.8} a="center" c="#444">{aCategories[0]}</T>
      <T x={91} y={92} s={4.8} a="center" c="#444">{aCategories[1]}</T>
      <Rule x={63} y={14.5} w={21} c="#555" />
      <T x={74} y={12} s={5} a="center">*</T>

      {/* B */}
      <PanelB />
      <T x={29} y={145} s={6.6} a="center" rot={-90}>Plasma Kyn (nM)</T>
      <T x={70} y={190} s={5} a="center">nAAC donor</T>
      <T x={112} y={190} s={5} a="center">Sham donor</T>
      <Rule x={62} y={107} w={14} c="#555" />
      <Rule x={103} y={106.5} w={14} c="#555" />
      <Rule x={76} y={114} w={41} c="#555" />
      <T x={69} y={104} s={5} a="center">***</T>
      <T x={110} y={104} s={5} a="center">*</T>
      <T x={96} y={112} s={5} a="center">**</T>

      {/* C */}
      <PanelC i={0} x={171} y={16} />
      <PanelC i={1} x={172} y={76} />
      <PanelC i={2} x={172} y={135} />
      <Rule x={226} y={31} w={6} h={1} c="#7f87c9" />
      <Rule x={226} y={38.5} w={6} h={1} c="#7e2457" />
      <Rule x={226} y={45.5} w={6} h={1} c="#eebc4d" />
      <T x={234} y={31} s={3.8}>Sham</T>
      <T x={234} y={38.5} s={3.8}>nAAC</T>
      <T x={234} y={45.5} s={3.8}>nAAC</T>
      <T x={235} y={51} s={3.8}>+probiotics</T>

      {/* D */}
      {dFrames.map((f, i) => (
        <BoxChart key={i} x={f[0]} y={f[1]} w={i % 2 ? 27 : 25.5} h={48} rows={dRow(i)} colors={dColors} ticks={[0, 33, 66, 100]} labels={['', '', '', '']}
          padL={2} padB={2} padT={4} line="#888" medColor="#1b1b1b" axis="#bbb" gap="28%"
          sig={i < 2 ? [[0, 1, 88, 'ns'], [1, 2, 88, 'ns'], [0, 2, 95, 'ns']] : i === 2 ? [[0, 1, 78, '*'], [1, 2, 78, '*'], [0, 2, 92, 'ns']] : i === 4 ? [[0, 1, 82, 'ns'], [1, 2, 82, 'ns'], [0, 2, 94, '*']] : [[0, 1, 86, 'ns'], [1, 2, 86, 'ns'], [0, 2, 96, i === 5 ? '*' : 'ns']]}
        />
      ))}
      {dTitles.map((t, i) => (
        <React.Fragment key={t}>
          <T x={346} y={[13, 74, 135][i]} s={4.6} a="center">{t}</T>
          <T x={311} y={[42, 102, 163][i]} s={4.8} a="center" rot={-90}>Community richness</T>
          <T x={381} y={[42, 102, 163][i]} s={4.8} a="center" rot={90}>Shannon index</T>
        </React.Fragment>
      ))}
      <GroupLegend x={386} y={34} s={4} swatchW={7} />

      {/* E */}
      <StackChart x={29} y={198} w={115} h={90.5} bars={e1Bars} colors={taxaColors.slice(0, 7)} stripY={293.5} groups={e1Groups} />
      <StackChart x={29} y={309} w={115} h={95} bars={e2Bars} colors={taxaColors} others stripY={410} groups={e1Groups} />
      <StackChart x={29} y={421} w={112} h={99.5} bars={e3Bars} colors={taxaColors.slice(0, 9)} others stripY={526} groups={e3Groups} />
      <TaxaLegend x={146} y={228} names={e1Taxa} colors={taxaColors} step={2.9} />
      <TaxaLegend x={146} y={334} names={e2Taxa} colors={taxaColors} step={3.1} />
      <TaxaLegend x={143} y={448} names={e3Taxa} colors={taxaColors} step={3.3} />
      <GroupLegend x={147} y={262} s={3.9} />
      <GroupLegend x={147} y={383} s={3.9} />
      <GroupLegend x={143} y={496} s={3.9} />

      {/* F */}
      <At x={170} y={195}>
        <BarChart layout="vertical" width={265} height={335} data={lefData} margin={{ top: 2.5, right: 0, bottom: 0, left: 0 }} barCategoryGap="9%">
          <CartesianGrid horizontal={false} stroke="#aaa" strokeDasharray="1 1.5" strokeWidth={0.5} />
          <XAxis type="number" domain={[0, 5.2]} ticks={[0, 1, 2, 3, 4, 5]} height={14} tickSize={1.5} tickMargin={3} stroke="#888" strokeWidth={0.5}
            tick={{ fontSize: 4.4, fill: '#222', fontFamily: FONT }} />
          <YAxis type="category" dataKey="name" width={91.7} interval={0} tickSize={1} stroke="#888" strokeWidth={0.5}
            tick={{ fontSize: 4.1, fill: '#111', fontFamily: FONT }} />
          <Bar dataKey="score" stroke="#555" strokeWidth={0.3} isAnimationActive={false}>
            {lefData.map((_, i) => <Cell key={i} fill={groupColors[lefGroup(i)]} />)}
          </Bar>
        </BarChart>
      </At>
      <Rule x={261.7} y={197.5} w={173} h={0.5} c="#aaa" />
      <T x={350} y={531} s={4.6} a="center" c="#333">LDA score (log₁₀)</T>
      <Rule x={399} y={463.5} w={10} h={3} c={BLUE} />
      <Rule x={399} y={476.5} w={10} h={3} c={RED} />
      <Rule x={399} y={489} w={10} h={3} c={TEAL} />
      <T x={412} y={465} s={7}>Sham</T>
      <T x={412} y={478} s={7}>nAAC</T>
      <T x={412} y={490} s={7}>nAAC</T>
      <T x={412} y={499} s={7}>+probiotics</T>

      {/* G */}
      <Cladogram />
      {gTitles.map((t, i) => {
        const f = gBoxFrames[i];
        return (
          <React.Fragment key={t}>
            <BoxChart x={f[0]} y={f[1]} w={f[2]} h={f[3]} rows={statsToRows(gStats[i], ['Sham', 'nAAC', 'probiotics'])} colors={groupColors}
              ticks={[0, 33.3, 66.7, 100]} labels={gTickLabels} padL={11} padB={4} tickSize={2.3} line="#333" medColor="#111" axis="#666" gap="22%"
              sig={i === 4 || i === 7 || i === 2 ? [[0, 2, i === 2 ? 18 : 8, '*']] : []} />
            <T x={f[0] + f[2] / 2} y={f[1] - 5} s={3} b a="center">{t}</T>
          </React.Fragment>
        );
      })}
      {gBoxTags.map((g) => (
        <T key={g[0] + g[2]} x={g[2]} y={g[3]} s={5} c={g[1]} a="center">{g[0]}</T>
      ))}

      {/* H */}
      <PanelH />

      {/* I */}
      <PanelI />
      <T x={649} y={433} s={6.4} a="center" rot={-90} c="#333">Plasma Kyn (nM)</T>
      <T x={699} y={493} s={6.6} a="center" c="#333">Post-</T>
      <T x={699} y={503} s={6.6} a="center" c="#333">FMT</T>
      <T x={727} y={493} s={6.6} a="center" c="#333">Post-</T>
      <T x={727} y={503} s={6.6} a="center" c="#333">probiotics</T>
      <Rule x={697} y={385} w={28} c="#333" h={0.9} />
      <T x={712} y={381} s={5} a="center">*</T>
    </div>
  );
}
